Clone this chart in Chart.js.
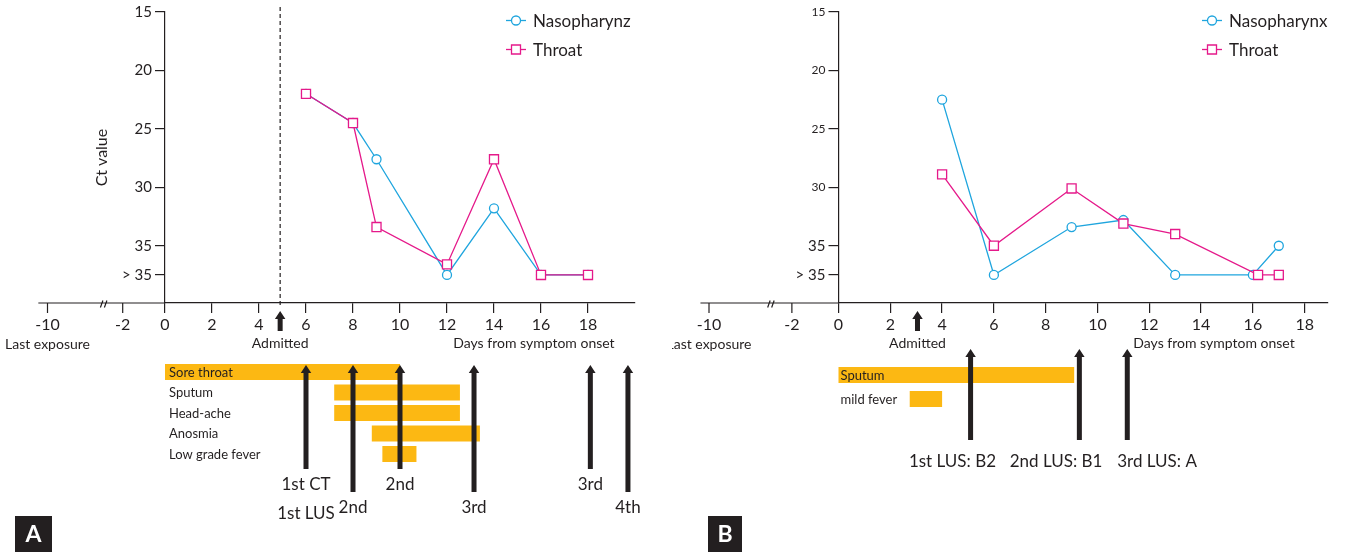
<!doctype html>
<html lang="en">
<head>
<meta charset="UTF-8">
<title>Ct values and symptom timeline</title>
<script src="https://cdn.jsdelivr.net/npm/chart.js@4/dist/chart.umd.min.js"></script>
<style>
  body { margin: 0; background: #fff; }
  #wrap { position: relative; width: 1345px; height: 552px; overflow: hidden; }
  .panel { position: absolute; top: 0; height: 552px; }
</style>
</head>
<body>
<div id="wrap">
  <div class="panel" style="left:0;width:672px"><canvas id="chartA" width="672" height="552"></canvas></div>
  <div class="panel" style="left:672px;width:673px"><canvas id="chartB" width="673" height="552"></canvas></div>
</div>
<script>
// ---- data ----
var xTicks = [-10, -2, 0, 2, 4, 6, 8, 10, 12, 14, 16, 18];
var yTicks = [15, 20, 25, 30, 35, 37.5];
var yTickLabels = ['15', '20', '25', '30', '35', '> 35'];

// panel A
var daysNasoA = [6, 8, 9, 12, 14, 16, 18];
var ctNasoA = [22, 24.5, 27.6, 37.5, 31.8, 37.5, 37.5];
var daysThroatA = [6, 8, 9, 12, 14, 16, 18];
var ctThroatA = [22, 24.5, 33.4, 36.6, 27.6, 37.5, 37.5];
var symptomsA = ['Sore throat', 'Sputum', 'Head-ache', 'Anosmia', 'Low grade fever'];
var symStartA = [0, 7.2, 7.2, 8.8, 9.25];
var symEndA = [10, 12.55, 12.55, 13.4, 10.7];
var ctDaysA = [6, 10, 18.1];
var ctLabelsA = ['1st CT', '2nd', '3rd'];
var lusDaysA = [6, 8, 13.15, 19.7];
var lusLabelsA = ['1st LUS', '2nd', '3rd', '4th'];
var admittedA = 4.9;

// panel B
var daysNasoB = [4, 6, 9, 11, 13, 16, 17];
var ctNasoB = [22.5, 37.5, 33.4, 32.8, 37.5, 37.5, 35];
var daysThroatB = [4, 6, 9, 11, 13, 16.2, 17];
var ctThroatB = [28.9, 35, 30.1, 33.1, 34, 37.5, 37.5];
var symptomsB = ['Sputum', 'mild fever'];
var symStartB = [0, 2.75];
var symEndB = [9.1, 4];
var lusDaysB = [5.1, 9.3, 11.15];
var lusLabelDaysB = [4.4, 8.4, 12.3];
var lusLabelsB = ['1st LUS: B2', '2nd LUS: B1', '3rd LUS: A'];
var admittedB = 3.05;

var FONT = 'Lato, "Open Sans", sans-serif';
var INK = '#231f20';
var BLUE = '#1fa5de';
var PINK = '#e5198a';
var ORANGE = '#fcb813';

// the axis is broken left of -2: -2 sits at -1.8, -10 at -5
function axisPos(d) {
  if (d >= 0) return d;
  if (d >= -2) return d * 0.9;
  return -1.8 + (d + 2) * 0.4;
}

function zip(xs, ys) {
  return xs.map(function (x, i) { return { x: x, y: ys[i] }; });
}

function arrowUp(ctx, x, yTip, yBottom) {
  var shaft = 5, headW = 10.5, headH = 8;
  ctx.beginPath();
  ctx.moveTo(x, yTip);
  ctx.lineTo(x + headW / 2, yTip + headH);
  ctx.lineTo(x + shaft / 2, yTip + headH);
  ctx.lineTo(x + shaft / 2, yBottom);
  ctx.lineTo(x - shaft / 2, yBottom);
  ctx.lineTo(x - shaft / 2, yTip + headH);
  ctx.lineTo(x - headW / 2, yTip + headH);
  ctx.closePath();
  ctx.fill();
}

function timelinePlugin(spec) {
  return {
    id: 'timeline',
    afterDraw: function (chart) {
      var ctx = chart.ctx;
      var xs = chart.scales.x;
      var area = chart.chartArea;
      var px = function (d) { return xs.getPixelForValue(axisPos(d)); };
      var yAxis = area.bottom;
      ctx.save();
      ctx.strokeStyle = INK;
      ctx.fillStyle = INK;
      ctx.lineWidth = 1.2;

      // axis extension to the left of the y axis
      ctx.beginPath();
      ctx.moveTo(xs.getPixelForValue(spec.axisStart), yAxis);
      ctx.lineTo(area.left, yAxis);
      xTicks.forEach(function (d) {
        if (d < 0) {
          ctx.moveTo(px(d), yAxis);
          ctx.lineTo(px(d), yAxis + 10);
        }
      });
      // break marks
      var bx = xs.getPixelForValue(spec.breakAt);
      ctx.moveTo(bx - 3.5, yAxis + 4.5);
      ctx.lineTo(bx - 1, yAxis - 2.5);
      ctx.moveTo(bx + 0.5, yAxis + 4.5);
      ctx.lineTo(bx + 3, yAxis - 2.5);
      ctx.stroke();

      ctx.textAlign = 'center';
      ctx.textBaseline = 'middle';
      ctx.font = '16px ' + FONT;
      xTicks.forEach(function (d) {
        if (d < 0) ctx.fillText(String(d), px(d), yAxis + 22);
      });
      ctx.font = '14px ' + FONT;
      ctx.fillText('Last exposure', px(-10), yAxis + 41);
      ctx.fillText('Admitted', px(spec.admitted), yAxis + 40);
      ctx.fillText('Days from symptom onset', px(spec.daysLabelAt), yAxis + 40);

      // admission
      if (spec.dashed) {
        ctx.save();
        ctx.setLineDash([4, 3]);
        ctx.lineWidth = 1.2;
        ctx.beginPath();
        ctx.moveTo(px(spec.admitted), 7);
        ctx.lineTo(px(spec.admitted), yAxis + 5);
        ctx.stroke();
        ctx.restore();
      }
      arrowUp(ctx, px(spec.admitted), yAxis + 8, yAxis + 28);

      // symptom bars
      ctx.textAlign = 'left';
      spec.symptoms.forEach(function (name, i) {
        var top = spec.rowTop + i * spec.rowPitch;
        var x0 = px(spec.symStart[i]), x1 = px(spec.symEnd[i]);
        ctx.fillStyle = ORANGE;
        ctx.fillRect(x0, top, x1 - x0, 16);
        ctx.fillStyle = INK;
        ctx.font = '13px ' + FONT;
        ctx.fillText(name, px(0) + spec.labelPad, top + 8.5);
      });

      // examinations
      ctx.textAlign = 'center';
      ctx.font = '17px ' + FONT;
      spec.events.forEach(function (ev) {
        if (!ev.noArrow) arrowUp(ctx, px(ev.day), spec.arrowTip, ev.bottom);
        ctx.fillText(ev.label, px(ev.labelDay), ev.labelY);
      });

      // legend
      ctx.textAlign = 'left';
      ctx.font = '17px ' + FONT;
      chart.data.datasets.slice().sort(function (a, b) { return a.legendIndex - b.legendIndex; })
        .forEach(function (ds, i) {
          var ly = spec.legendY[i], lx = spec.legendX;
          ctx.strokeStyle = ds.borderColor;
          ctx.lineWidth = 1.3;
          ctx.beginPath();
          ctx.moveTo(lx, ly);
          ctx.lineTo(lx + 20, ly);
          ctx.stroke();
          ctx.fillStyle = '#fff';
          ctx.beginPath();
          if (ds.pointStyle === 'circle') {
            ctx.arc(lx + 10, ly, 4.5, 0, Math.PI * 2);
          } else {
            ctx.rect(lx + 5.5, ly - 4.5, 9, 9);
          }
          ctx.fill();
          ctx.stroke();
          ctx.fillStyle = INK;
          ctx.fillText(ds.label, lx + 27, ly + 1);
        });

      // panel letter
      var b = spec.letterBox;
      ctx.fillStyle = INK;
      ctx.fillRect(b[0], b[1], b[2], b[3]);
      ctx.fillStyle = '#fff';
      ctx.textAlign = 'center';
      ctx.font = 'bold 23px ' + FONT;
      ctx.fillText(spec.letter, b[0] + b[2] / 2, b[1] + b[3] / 2 + 1);
      ctx.restore();
    }
  };
}

function makeChart(id, spec) {
  var datasets = [
    {
      label: spec.nasoLabel, legendIndex: 0, order: 1,
      data: zip(spec.nasoDays, spec.nasoCt),
      borderColor: BLUE, pointStyle: 'circle', pointRadius: 4.5
    },
    {
      label: 'Throat', legendIndex: 1, order: 0,
      data: zip(spec.throatDays, spec.throatCt),
      borderColor: PINK, pointStyle: 'rect', pointRadius: 6.4
    }
  ];
  datasets.forEach(function (ds) {
    ds.borderWidth = 1.3;
    ds.pointBorderWidth = 1.3;
    ds.pointBackgroundColor = '#fff';
    ds.pointBorderColor = ds.borderColor;
    ds.tension = 0;
    ds.clip = false;
  });

  return new Chart(document.getElementById(id), {
    type: 'line',
    data: { datasets: datasets },
    options: {
      responsive: false,
      animation: false,
      devicePixelRatio: 1,
      layout: { padding: spec.padding },
      plugins: { legend: { display: false }, tooltip: { enabled: false } },
      scales: {
        x: {
          type: 'linear', min: 0, max: spec.xMax,
          afterBuildTicks: function (s) {
            s.ticks = xTicks.filter(function (d) { return d >= 0; }).map(function (d) { return { value: d }; });
          },
          afterFit: function (s) { s.height = 40; },
          grid: { display: true, drawOnChartArea: false, tickLength: 10, color: INK, lineWidth: 1.2 },
          border: { color: INK, width: 1.2 },
          ticks: { autoSkip: false, maxRotation: 0, padding: 2, color: INK, font: { family: FONT, size: 16 } }
        },
        y: {
          type: 'linear', min: 15, max: 39.9, reverse: true,
          afterBuildTicks: function (s) {
            s.ticks = yTicks.map(function (v) { return { value: v }; });
          },
          afterFit: function (s) { s.width = spec.yWidth; },
          grid: { display: true, drawOnChartArea: false, tickLength: 10, color: INK, lineWidth: 1.2 },
          border: { color: INK, width: 1.2 },
          title: {
            display: !!spec.yTitle, text: spec.yTitle || '', color: INK,
            font: { family: FONT, size: 16 }, padding: { top: 4, bottom: 4 }
          },
          ticks: {
            padding: 3, color: INK,
            callback: function (v) { return yTickLabels[yTicks.indexOf(v)]; },
            font: function (c) {
              var small = c.tick && c.tick.value < 35;
              return { family: FONT, size: small ? spec.smallTick : 15 };
            }
          }
        }
      }
    },
    plugins: [timelinePlugin(spec)]
  });
}

var eventsA = [];
ctDaysA.forEach(function (d, i) {
  eventsA.push({ day: d, labelDay: d, bottom: 469, label: ctLabelsA[i], labelY: 485 });
});
lusDaysA.forEach(function (d, i) {
  var shared = ctDaysA.indexOf(d) >= 0;
  eventsA.push({ day: d, labelDay: d, bottom: 492, label: lusLabelsA[i], labelY: shared ? 514 : 508, noArrow: shared });
});

var eventsB = lusDaysB.map(function (d, i) {
  return { day: d, labelDay: lusLabelDaysB[i], bottom: 440, label: lusLabelsB[i], labelY: 462 };
});

makeChart('chartA', {
  nasoLabel: 'Nasopharynz',
  nasoDays: daysNasoA, nasoCt: ctNasoA, throatDays: daysThroatA, throatCt: ctThroatA,
  padding: { left: 88, top: 12, right: 37, bottom: 209 }, yWidth: 77, xMax: 20,
  yTitle: 'Ct value', smallTick: 15,
  axisStart: -5.39, breakAt: -2.6, admitted: admittedA, dashed: true, daysLabelAt: 15.7,
  symptoms: symptomsA, symStart: symStartA, symEnd: symEndA,
  rowTop: 364, rowPitch: 20.5, labelPad: 4,
  arrowTip: 365, events: eventsA,
  legendX: 506, legendY: [20.5, 49.5],
  letter: 'A', letterBox: [15, 516, 37, 36]
});

makeChart('chartB', {
  nasoLabel: 'Nasopharynx',
  nasoDays: daysNasoB, nasoCt: ctNasoB, throatDays: daysThroatB, throatCt: ctThroatB,
  padding: { left: 100, top: 12, right: 17, bottom: 209 }, yWidth: 66.5, xMax: 18.9,
  yTitle: null, smallTick: 12,
  axisStart: -5.33, breakAt: -2.6, admitted: admittedB, dashed: false, daysLabelAt: 14.5,
  symptoms: symptomsB, symStart: symStartB, symEnd: symEndB,
  rowTop: 367, rowPitch: 24, labelPad: 2,
  arrowTip: 349, events: eventsB,
  legendX: 530, legendY: [20.5, 49.5],
  letter: 'B', letterBox: [36, 516, 34, 36]
});
</script>
</body>
</html>
